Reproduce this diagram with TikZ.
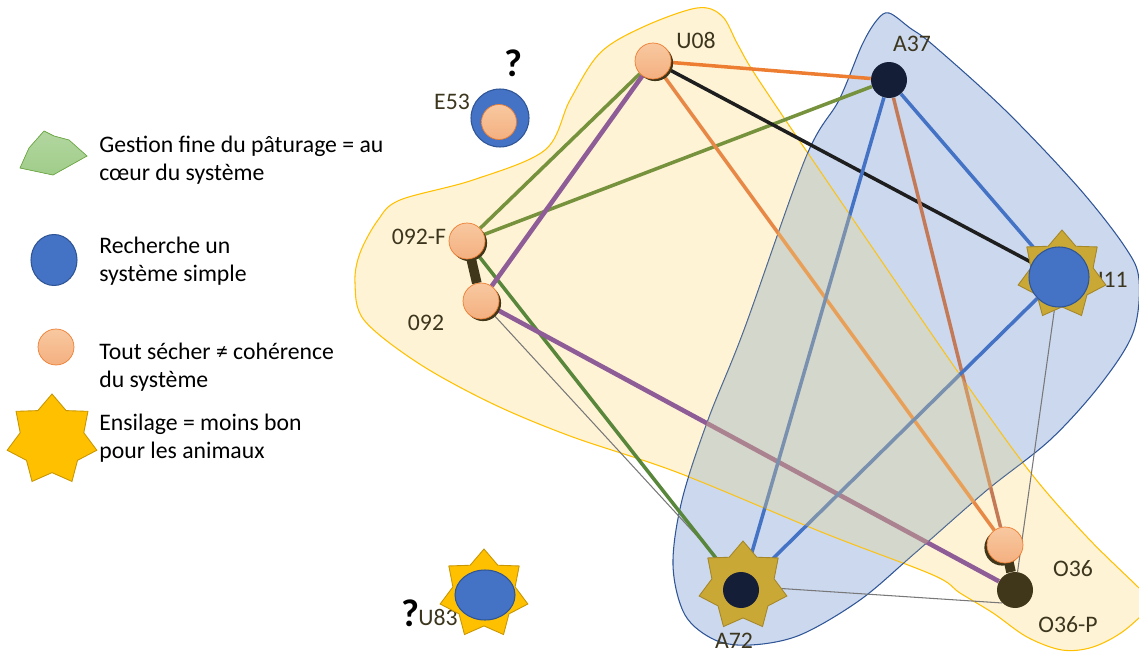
\documentclass[tikz,border=0pt]{standalone}
\usepackage{fontspec}
\setmainfont{Carlito}
\usetikzlibrary{shapes.geometric, shadows}
\definecolor{yellowfill}{RGB}{255,243,214}
\definecolor{yellowedge}{RGB}{255,192,0}
\definecolor{bluefill}{RGB}{203,216,238}
\definecolor{blueedge}{RGB}{47,85,151}
\definecolor{overlaptint}{RGB}{234,213,132}
\definecolor{accblue}{RGB}{68,114,196}
\definecolor{accorange}{RGB}{237,125,49}
\definecolor{orangeline}{RGB}{232,136,70}
\definecolor{brownline}{RGB}{196,122,86}
\definecolor{accgreen}{RGB}{118,146,60}
\definecolor{greendark}{RGB}{88,134,58}
\definecolor{purpleline}{RGB}{142,92,150}
\definecolor{lineblack}{RGB}{30,30,30}
\definecolor{linkgray}{RGB}{120,120,120}
\definecolor{navy}{RGB}{20,30,54}
\definecolor{darkbrown}{RGB}{64,54,26}
\definecolor{goldstar}{RGB}{201,168,54}
\definecolor{goldedge}{RGB}{165,135,40}
\definecolor{gold}{RGB}{255,192,0}
\definecolor{goldline}{RGB}{200,150,0}
\definecolor{salmontop}{RGB}{248,200,160}
\definecolor{salmonbot}{RGB}{244,176,128}
\definecolor{labeltext}{RGB}{60,54,30}
\definecolor{legendgreenlt}{RGB}{178,214,160}
\definecolor{legendgreen}{RGB}{160,205,138}
\definecolor{legendgreenedge}{RGB}{112,173,71}

\pgfdeclarelayer{blobs}
\pgfdeclarelayer{edges}
\pgfdeclarelayer{tint}
\pgfsetlayers{blobs,edges,tint,main}

% farm groups, in pixel coordinates
\newcommand{\yellowblob}{plot[smooth cycle, tension=0.55] coordinates {
    (697,8) (722,16) (738,45) (760,82) (850,215) (960,375) (1030,472)
    (1087,537) (1139,588) (1152,602) (1125,630) (1093,647) (1062,650)
    (1027,637) (993,613) (960,593) (933,575) (824,533) (679,473)
    (570,436) (491,403) (418,363) (364,320) (355,283) (360,253)
    (378,220) (400,200) (473,180) (545,150) (570,100) (600,53) (643,27)}}
\newcommand{\blueblob}{plot[smooth cycle, tension=0.55] coordinates {
    (889,13) (910,28) (933,45) (1005,110) (1078,187) (1125,247)
    (1139,280) (1133,333) (1100,385) (1050,440) (987,490) (915,553)
    (860,600) (800,635) (751,645) (715,640) (685,615) (673,565)
    (682,500) (708,420) (744,330) (806,157) (839,100) (862,45) (877,20)}}

\begin{document}
\begin{tikzpicture}[
    x=0.02cm, y=-0.02cm,
    every node/.style={font=\fontsize{13.5}{16}\selectfont},
    sechplain/.style={circle, draw=accorange, line width=0.4pt,
        top color=salmontop, bottom color=salmonbot,
        minimum size=0.72cm, inner sep=0pt},
    sech/.style={sechplain, drop shadow={shadow xshift=1.2pt,
        shadow yshift=-1.2pt, fill=darkbrown, opacity=1}},
    navydot/.style={circle, fill=navy, minimum size=0.72cm, inner sep=0pt},
    browndot/.style={circle, fill=darkbrown, minimum size=0.72cm, inner sep=0pt},
    simple/.style={ellipse, fill=accblue, draw=blueedge, line width=0.6pt, inner sep=0pt},
    silo/.style={star, star points=7, star point ratio=1.41, fill=goldstar,
        draw=goldedge, line width=0.5pt, inner sep=0pt, minimum size=1.8cm},
    lbl/.style={text=labeltext, inner sep=0pt},
    qmark/.style={font=\fontsize{22}{24}\selectfont\bfseries, inner sep=0pt},
    legend/.style={align=left, anchor=west, inner sep=0pt},
    link/.style={line width=2pt},
    thinlink/.style={line width=0.6pt, linkgray},
    bar/.style={line width=5.5pt, darkbrown}
]
\useasboundingbox (0,0) rectangle (1139,652);

% Groups
\begin{pgfonlayer}{blobs}
\fill[yellowfill] \yellowblob;
\fill[bluefill] \blueblob;
\draw[yellowedge, line width=0.6pt] \yellowblob;
\draw[blueedge, line width=0.6pt] \blueblob;
\end{pgfonlayer}

% Labels (before the farms, U11 is partly hidden)
\node[lbl] (U08lbl) at (696,40) {U08};
\node[lbl] (A37lbl) at (912,44) {A37};
\node[lbl] (E53lbl) at (452,102) {E53};
\node[lbl] (F092lbl) at (419,237) {092-F};
\node[lbl] (N092lbl) at (426,323) {092};
\node[lbl] (U11lbl) at (1108,280) {U11};
\node[lbl] (O36lbl) at (1073,569) {O36};
\node[lbl] (O36Plbl) at (1068,625) {O36-P};
\node[lbl] (A72lbl) at (734,641) {A72};
\node[lbl] (U83lbl) at (438,617) {U83};
\node[qmark] (E53q) at (513,63) {?};
\node[qmark] (U83q) at (410,613) {?};

% Farms
\node[sech] (U08) at (653,61) {};
\node[navydot] (A37) at (889,80) {};
\node[simple, minimum width=1.16cm, minimum height=1.16cm] (E53) at (500,118) {};
\node[sechplain, minimum size=0.7cm] (E53in) at (499,122) {};
\node[sech] (F092) at (467,241) {};
\node[sech] (N092) at (481,301) {};
\node[silo] (U11star) at (1062,275) {};
\node[simple, minimum width=1.2cm, minimum height=1.2cm] (U11) at (1059,277) {};
\node[silo] (A72star) at (743,586) {};
\node[navydot] (A72) at (741,590) {};
\node[sechplain, drop shadow={shadow xshift=-1.5pt, shadow yshift=-1.5pt,
    fill=darkbrown, opacity=1}] (O36) at (1005,545) {};
\node[browndot] (O36P) at (1015,590) {};
\node[silo, fill=gold, draw=goldline] (U83star) at (484,594) {};
\node[simple, minimum width=1.2cm, minimum height=1cm] (U83) at (485,595) {};

% Links
\begin{pgfonlayer}{edges}
\draw[thinlink] (N092) -- (A72star);
\draw[thinlink] (A72star) -- (O36P.south west);
\draw[thinlink] (U11) -- (O36P);
\draw[link, accgreen] (F092) -- (U08);
\draw[link, accgreen] (F092) -- (A37);
\draw[link, greendark] (F092) -- (A72);
\draw[link, line width=2.6pt, purpleline] (N092) -- (U08);
\draw[link, line width=2.6pt, purpleline] (N092) -- (O36P);
\draw[link, accorange] (U08) -- (A37);
\draw[link, lineblack] (U08) -- (U11);
\draw[link, orangeline] (U08) -- (O36);
\draw[link, accblue] (A37) -- (U11);
\draw[link, accblue] (A37) -- (A72);
\draw[link, brownline] (A37) -- (O36);
\draw[link, accblue] (U11) -- (A72);
\draw[bar] (F092) -- (N092);
\draw[bar] (O36) -- (O36P);
\end{pgfonlayer}

% Overlap of the two groups
\begin{pgfonlayer}{tint}
\begin{scope}
\clip \yellowblob;
\fill[overlaptint, fill opacity=0.32] \blueblob;
\end{scope}
\end{pgfonlayer}

% Legend
\fill[top color=legendgreenlt, bottom color=legendgreen, draw=legendgreenedge]
    (20,168) -- (29,148) -- (44,131) -- (54,136) -- (69,140) -- (87,156) -- (53,175) -- cycle;
\node[simple, minimum width=0.92cm, minimum height=1.02cm] (lgSimple) at (54,260) {};
\node[sechplain] (lgSech) at (56,347) {};
\node[silo, fill=gold, draw=goldline, minimum size=1.84cm] (lgSilo) at (52,440) {};
\node[legend] (lgPaturage) at (99,160) {Gestion fine du pâturage = au\\cœur du système};
\node[legend] (lgSimpleTxt) at (99,261) {Recherche un\\système simple};
\node[legend] (lgSechTxt) at (99,367) {Tout sécher ≠ cohérence\\du système};
\node[legend] (lgSiloTxt) at (99,438) {Ensilage = moins bon\\pour les animaux};

\end{tikzpicture}
\end{document}
